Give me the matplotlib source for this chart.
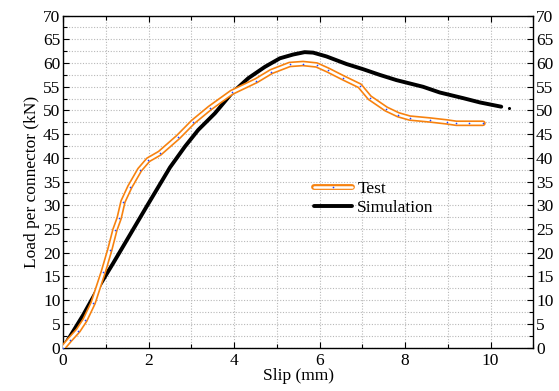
import matplotlib.pyplot as plt
from matplotlib.legend_handler import HandlerTuple
from matplotlib.ticker import MultipleLocator

# Test curve
test_slip = [0.0, 0.15, 0.35, 0.51, 0.70, 0.94, 1.09, 1.21, 1.31, 1.40, 1.56, 1.79,
             1.99, 2.26, 2.69, 3.04, 3.43, 3.94, 4.52, 4.87, 5.3, 5.61, 5.93,
             6.2, 6.55, 6.94, 7.17, 7.56, 7.84, 8.11, 8.58, 8.97, 9.2, 9.5, 9.82]
test_load = [0.0, 1.6, 3.6, 5.8, 9.4, 16.0, 20.6, 24.8, 27.3, 30.8, 33.9, 37.5,
             39.6, 41.0, 44.4, 47.6, 50.5, 53.8, 56.3, 58.2, 59.7, 59.9, 59.6,
             58.5, 56.9, 55.2, 52.7, 50.3, 49.1, 48.4, 48.0, 47.6, 47.3, 47.3, 47.3]

# Simulation curve
sim_slip = [0.0, 0.47, 0.86, 1.17, 1.40, 1.95, 2.50, 2.85, 3.16, 3.55, 3.94, 4.33,
            4.72, 5.07, 5.38, 5.65, 5.85, 6.16, 6.63, 7.02, 7.41, 7.8, 8.42, 8.81,
            9.36, 9.75, 10.25]
sim_load = [0.0, 6.9, 13.2, 17.8, 21.3, 29.7, 38.0, 42.4, 45.9, 49.4, 53.6, 56.8,
            59.2, 61.0, 61.8, 62.3, 62.2, 61.4, 59.8, 58.7, 57.5, 56.4, 55.0, 53.8,
            52.6, 51.7, 50.8]

plt.rcParams['font.family'] = ['Liberation Serif', 'DejaVu Serif']
plt.rcParams['font.size'] = 12.5

fig = plt.figure(figsize=(5.59, 3.91), dpi=100)
ax = fig.add_axes([0.113, 0.111, 0.841, 0.849])

orange = '#f7820f'
t1, = ax.plot(test_slip, test_load, color=orange, lw=4.2, solid_capstyle='round',
              solid_joinstyle='round', zorder=3)
t2, = ax.plot(test_slip, test_load, color='white', lw=1.8, solid_capstyle='round',
              solid_joinstyle='round', zorder=4)
t3, = ax.plot(test_slip, test_load, ls='none', marker='o', ms=1.2, color='#1f3fff',
              markeredgewidth=0, zorder=5)
s1, = ax.plot(sim_slip, sim_load, color='black', lw=2.8, solid_capstyle='round',
              solid_joinstyle='round', zorder=2)
ax.plot([10.44], [50.6], marker='o', ms=1.2, color='black', ls='none')

ax.set_xlim(0, 11)
ax.set_ylim(0, 70)
ax.xaxis.set_major_locator(MultipleLocator(2))
ax.xaxis.set_minor_locator(MultipleLocator(1))
ax.yaxis.set_major_locator(MultipleLocator(5))
ax.yaxis.set_minor_locator(MultipleLocator(2.5))
ax.grid(which='both', color='#b8b8b8', ls=(0, (1, 1.5)), lw=0.8)
ax.set_axisbelow(True)
ax.tick_params(which='both', direction='in', top=True, right=True,
               labelright=True, length=4, width=0.8)
ax.tick_params(which='minor', length=3)
ax.tick_params(axis='y', pad=2)
ax.tick_params(axis='x', pad=4)
for sp in ax.spines.values():
    sp.set_linewidth(1.0)

ax.set_xlabel('Slip (mm)', labelpad=-1)
ax.set_ylabel('Load per connector (kN)', labelpad=2)

ax.legend([(t1, t2, t3), s1], ['Test', 'Simulation'],
          handler_map={tuple: HandlerTuple(ndivide=1)},
          frameon=False, loc='upper left', bbox_to_anchor=(0.5, 0.55),
          handlelength=2.2, handletextpad=0.3, labelspacing=0.2)

fig.savefig('out.png', dpi=100)
